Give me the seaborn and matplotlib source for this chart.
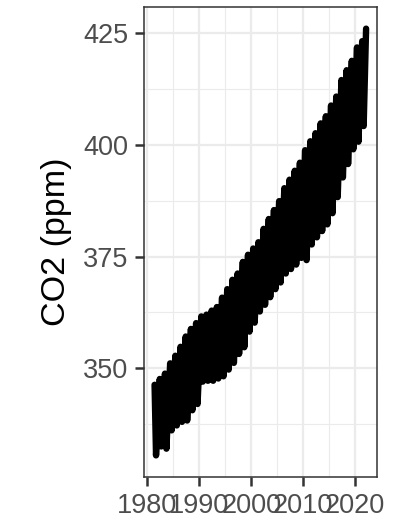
import numpy as np
import pandas as pd
import matplotlib
matplotlib.use("Agg")
import matplotlib.pyplot as plt
from matplotlib.ticker import MultipleLocator
import seaborn as sns

# Yearly seasonal extremes of atmospheric CO2 (ppm)
years = list(range(1981, 2022))
spring_peak = [346.3, 347.6, 348.8, 351.1, 352.8, 354.8, 357.1, 358.8, 360.1, 361.6,
               362.0, 362.9, 363.7, 365.8, 367.7, 369.8, 371.2, 373.8, 375.4, 376.8,
               378.2, 381.2, 383.4, 385.4, 387.4, 390.3, 392.2, 394.2, 396.0, 398.8,
               400.8, 402.6, 404.8, 406.4, 408.8, 410.8, 414.5, 416.7, 418.8, 421.8,
               423.2]
late_summer_low = [330.5, 332.5, 332.0, 336.1, 337.2, 338.0, 338.3, 340.6, 342.0, 347.0,
                   347.2, 347.2, 347.7, 348.2, 349.7, 351.2, 353.2, 354.7, 358.2, 360.2,
                   362.7, 364.2, 365.9, 367.7, 369.2, 371.2, 372.2, 373.2, 374.7, 374.2,
                   377.7, 379.3, 380.7, 382.2, 384.7, 388.3, 392.7, 395.7, 399.0, 400.7,
                   404.2]
last_time = 2022.12
last_value = 426.0

# Peak in late spring, minimum in late summer
peak_offset = 0.37
low_offset = 0.65

times, values = [], []
for y, hi, lo in zip(years, spring_peak, late_summer_low):
    times += [y + peak_offset, y + low_offset]
    values += [hi, lo]
times.append(last_time)
values.append(last_value)
df = pd.DataFrame({"date": times, "co2": values})

sns.set_theme(style="whitegrid")
plt.rcParams["font.family"] = ["Liberation Sans", "DejaVu Sans"]
plt.rcParams["xtick.labelsize"] = 19.5
plt.rcParams["ytick.labelsize"] = 19.5

fig = plt.figure(figsize=(3.94, 5.23), dpi=100)
ax = fig.add_axes([0.3655, 0.0885, 0.956 - 0.3655, 0.986 - 0.0885])

sns.lineplot(data=df, x="date", y="co2", color="black", linewidth=4.6,
             estimator=None, ax=ax, solid_capstyle="round", solid_joinstyle="round")

# ggplot-style 5% expansion around the data range
xr = df["date"].max() - df["date"].min()
yr = df["co2"].max() - df["co2"].min()
ax.set_xlim(df["date"].min() - 0.05 * xr, df["date"].max() + 0.05 * xr)
ax.set_ylim(df["co2"].min() - 0.05 * yr, df["co2"].max() + 0.05 * yr)

ax.xaxis.set_major_locator(MultipleLocator(10))
ax.xaxis.set_minor_locator(MultipleLocator(5))
ax.yaxis.set_major_locator(MultipleLocator(25))
ax.yaxis.set_minor_locator(MultipleLocator(12.5))

ax.set_facecolor("white")
ax.grid(which="major", color="#EBEBEB", linewidth=1.6)
ax.grid(which="minor", color="#EBEBEB", linewidth=0.8)
ax.set_axisbelow(True)

for s in ax.spines.values():
    s.set_visible(True)
    s.set_color("#333333")
    s.set_linewidth(1.1)

ax.tick_params(axis="both", which="major", length=6.5, width=1.8, color="#333333",
               labelcolor="#4D4D4D", pad=5, bottom=True, left=True)
ax.tick_params(axis="both", which="minor", length=0)
for lab in ax.get_xticklabels() + ax.get_yticklabels():
    lab.set_fontsize(19.5)

ax.set_xlabel("")
ax.set_ylabel("CO2 (ppm)", fontsize=24.5, color="black", labelpad=8)

fig.savefig("out.png", dpi=100)
